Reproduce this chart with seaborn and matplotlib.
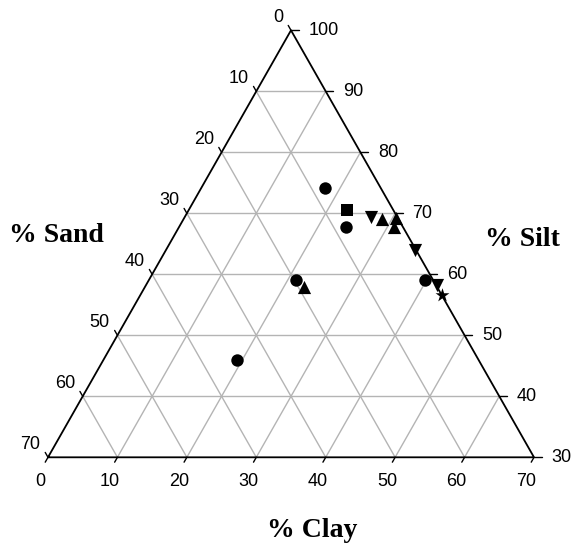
#Ternary soil texture chart (truncated, silt >= 30) in Seaborn
import matplotlib
matplotlib.use('Agg')
import matplotlib.pyplot as plt
import seaborn as sns
import pandas as pd

# sample compositions (% clay, % silt; sand is the remainder)
circle_clay = [17.9, 24.1, 21.2, 39.7, 19.2]
circle_silt = [74.1, 67.7, 59.1, 59.1, 46.0]
square_clay = [22.8]
square_silt = [70.5]
up_clay = [28.6, 30.5, 30.9, 22.9]
up_silt = [69.0, 69.2, 67.8, 58.0]
down_clay = [26.8, 35.9, 41.9]
down_silt = [69.4, 64.0, 58.2]
star_clay = [43.5]
star_silt = [56.6]

ticks = [0, 10, 20, 30, 40, 50, 60, 70]
silt_ticks = [30, 40, 50, 60, 70, 80, 90, 100]


def tx(clay, silt):
    # ternary -> cartesian, x along clay, y = silt
    return clay + (silt - 30) / 2.0


sns.set_style('white')
plt.rcParams['font.family'] = ['Liberation Sans', 'DejaVu Sans']
plt.rcParams['text.color'] = 'black'

fig = plt.figure(figsize=(5.76, 5.46), dpi=100)
ax = fig.add_axes([48 / 576, (546 - 457.3) / 546, 486 / 576, 427 / 546])

grid = '#b4b4b4'
for v in range(10, 70, 10):
    # constant silt (horizontal)
    s = 30 + v
    ax.plot([tx(0, s), tx(100 - s, s)], [s, s], color=grid, lw=1, zorder=1)
    # constant clay
    ax.plot([tx(v, 30), tx(v, 100 - v)], [30, 100 - v], color=grid, lw=1, zorder=1)
    # constant sand
    ax.plot([tx(0, 100 - v), tx(70 - v, 30)], [100 - v, 30], color=grid, lw=1, zorder=1)

# triangle border
ax.plot([tx(0, 30), tx(70, 30), tx(0, 100), tx(0, 30)], [30, 30, 100, 30],
        color='black', lw=1.3, zorder=2, clip_on=False)

# ticks and tick labels
for c in ticks:
    # bottom (clay)
    ax.plot([tx(c, 30), tx(c, 29.2)], [30, 29.2], color='black', lw=1, clip_on=False)
    ax.text(tx(c, 30) - 1.15, 26.0, str(c), ha='center', va='center', fontsize=13, color='black')
    # left (sand)
    s = 100 - c
    ax.plot([tx(0, s), tx(-0.8, s + 0.8)], [s, s + 0.8], color='black', lw=1, clip_on=False)
    ax.text(tx(0, s) - 1.1, s + 2.1, str(c), ha='right', va='center', fontsize=13, color='black')
for s in silt_ticks:
    x0 = tx(100 - s, s)
    ax.plot([x0, x0 + 1.1], [s, s], color='black', lw=1, clip_on=False)
    ax.text(x0 + 2.5, s, str(s), ha='left', va='center', fontsize=13, color='black')

groups = [
    (circle_clay, circle_silt, 'o', 80),
    (square_clay, square_silt, 's', 80),
    (up_clay, up_silt, '^', 90),
    (down_clay, down_silt, 'v', 90),
    (star_clay, star_silt, '*', 110),
]
for cl, si, mk, sz in groups:
    df = pd.DataFrame({'x': [tx(a, b) for a, b in zip(cl, si)], 'y': si})
    sns.scatterplot(x='x', y='y', data=df, marker=mk, s=sz, color='black',
                    edgecolor='black', linewidth=0, ax=ax, zorder=3, clip_on=False)
ax.set_xlim(0, 70)
ax.set_ylim(30, 100)
ax.axis('off')

title_font = dict(family=['Liberation Serif', 'DejaVu Serif'], fontweight='bold',
                  fontsize=20, color='black')
fig.text(56 / 576, 1 - 242 / 546, '% Sand', ha='center', va='baseline', **title_font)
fig.text(522 / 576, 1 - 246 / 546, '% Silt', ha='center', va='baseline', **title_font)
fig.text(312 / 576, 1 - 537 / 546, '% Clay', ha='center', va='baseline', **title_font)

plt.savefig('out.png', dpi=100)
